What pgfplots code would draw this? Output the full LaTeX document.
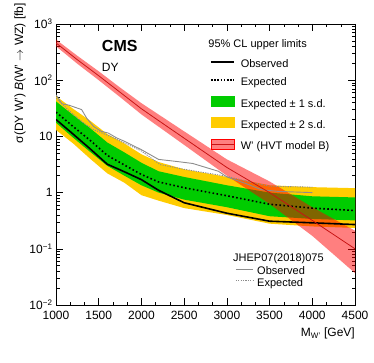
\documentclass[border=0pt]{standalone}
\usepackage{fontspec}
\setmainfont{Liberation Sans}
\usepackage{pgfplots}
\pgfplotsset{compat=1.18}
\usepackage{pgfplotstable}
\usepgfplotslibrary{fillbetween}

\definecolor{rootgreen}{RGB}{0,204,0}
\definecolor{rootyellow}{RGB}{255,204,0}
\definecolor{hvtred}{RGB}{255,0,0}
\definecolor{hvtline}{RGB}{200,20,20}
\definecolor{oldgray}{RGB}{140,140,140}

\pgfplotstableread{
m    obs   exp   g1lo  g1hi  g2lo  g2hi
1000 20    27    17.5  42    13    52
1200 11    15    9.5   24    7.5   31
1400 6.0   8.5   5.3   14    4.0   19
1600 3.2   4.6   3.0   7.8   2.2   11
1800 2.35  3.1   2.0   5.2   1.5   7.5
2000 1.7   2.1   1.35  3.4   0.9   4.8
2200 1.1   1.55  1.0   2.4   0.72  3.5
2500 0.66  1.22  0.75  1.9   0.53  2.6
3000 0.43  0.88  0.55  1.35  0.40  1.9
3500 0.31  0.62  0.38  1.0   0.28  1.35
4000 0.29  0.53  0.34  0.86  0.25  1.25
4500 0.27  0.48  0.32  0.82  0.235 1.2
}\limtab

\pgfplotstableread{
m    c     lo    hi
1000 461   402   529
1250 231   196   272
1500 120   100   144
1750 61    50    74
2000 31    24.6  39
2500 9.3   7.06  12.3
3000 2.8   2.0   3.9
3500 1.0   0.63  1.58
4000 0.32  0.17  0.55
4500 0.10  0.037 0.21
}\hvttab

\pgfplotstableread{
m    v
1000 55
1070 38
1150 36
1300 30
1360 21
1440 15
1530 12.3
1610 11.5
1710 9.4
1800 8.2
2000 5.8
2200 3.9
2400 3.6
2600 3.3
2900 2.4
3000 1.9
3250 1.4
3400 1.13
3600 1.05
4000 1.0
}\oldobs

\pgfplotstableread{
m    v
1000 48
1160 28
1320 17.4
1440 13.2
1630 10.1
2000 5.5
2220 3.15
2500 2.6
3000 1.95
3300 1.5
3500 1.3
4000 1.25
}\oldexp

\begin{document}
\begin{tikzpicture}
\begin{axis}[
  width=299pt, height=281pt, scale only axis,
  xmin=1000, xmax=4500, ymin=0.01, ymax=1000, ymode=log,
  xtick={1000,1500,...,4500}, minor x tick num=2,
  ytick={0.01,0.1,1,10,100,1000},
  minor ytick={0.02,0.03,0.04,0.05,0.06,0.07,0.08,0.09,
               0.2,0.3,0.4,0.5,0.6,0.7,0.8,0.9,
               2,3,4,5,6,7,8,9,
               20,30,40,50,60,70,80,90,
               200,300,400,500,600,700,800,900},
  yticklabels={10\textsuperscript{−2},10\textsuperscript{−1},1,10,10\textsuperscript{2},10\textsuperscript{3}},
  /pgf/number format/1000 sep={},
  /pgf/number format/assume math mode=true,
  tick align=inside, xtick pos=both, ytick pos=both,
  major tick length=7pt, minor tick length=3.5pt,
  every tick/.style={black, line width=0.5pt},
  axis line style={line width=0.6pt},
  ticklabel style={font=\fontsize{12}{14}\selectfont},
  xticklabel style={yshift=-3pt},
  xlabel={M\textsubscript{W'} [GeV]},
  xlabel style={at={(axis description cs:1,-0.08)}, anchor=north east, inner sep=0pt, font=\fontsize{12}{14}\selectfont},
  ylabel={σ(DY W') \textit{B}(W' $\rightarrow$ WZ) [fb]},
  ylabel style={at={(axis description cs:-0.12,1.075)}, anchor=east, inner sep=0pt, font=\fontsize{12}{14}\selectfont},
  legend cell align=left,
  legend style={at={(axis description cs:0.515,0.874)}, anchor=north west, draw=none, fill=none,
    inner sep=0pt, column sep=6pt, row sep=7.8pt,
    nodes={inner sep=0pt, text height=8pt, text depth=2.5pt},
    font=\fontsize{11}{13}\selectfont},
]
\coordinate (SW) at (rel axis cs:0,0);
\coordinate (NE) at (rel axis cs:1,1);

\addlegendimage{legend image code/.code={\draw[black, line width=1.6pt] (0pt,3pt) -- (23pt,3pt);}}
\addlegendentry{Observed}
\addlegendimage{legend image code/.code={\draw[black, line width=1.6pt, dash pattern=on 1.6pt off 1.6pt] (0pt,3pt) -- (23pt,3pt);}}
\addlegendentry{Expected}
\addlegendimage{legend image code/.code={\fill[rootgreen] (0pt,-2pt) rectangle (23pt,8pt);}}
\addlegendentry{Expected ± 1 s.d.}
\addlegendimage{legend image code/.code={\fill[rootyellow] (0pt,-2pt) rectangle (23pt,8pt);}}
\addlegendentry{Expected ± 2 s.d.}
\addlegendimage{legend image code/.code={\fill[hvtred, fill opacity=0.5] (0pt,-2pt) rectangle (23pt,8pt); \draw[hvtline, line width=0.8pt] (0pt,3pt) -- (23pt,3pt);}}
\addlegendentry{W' (HVT model B)}

% 2 s.d. band
\addplot[name path=y2hi, draw=none, forget plot] table[x=m,y=g2hi]{\limtab};
\addplot[name path=y2lo, draw=none, forget plot] table[x=m,y=g2lo]{\limtab};
\addplot[rootyellow, forget plot] fill between[of=y2hi and y2lo];
% 1 s.d. band
\addplot[name path=y1hi, draw=none, forget plot] table[x=m,y=g1hi]{\limtab};
\addplot[name path=y1lo, draw=none, forget plot] table[x=m,y=g1lo]{\limtab};
\addplot[rootgreen, forget plot] fill between[of=y1hi and y1lo];

% old results
\addplot[oldgray, line width=0.9pt, forget plot] table[x=m,y=v]{\oldobs};
\addplot[oldgray, line width=0.9pt, dash pattern=on 1.2pt off 1.2pt, forget plot] table[x=m,y=v]{\oldexp};

% observed / expected
\addplot[black, line width=1.6pt, forget plot] table[x=m,y=obs]{\limtab};
\addplot[black, line width=1.6pt, dash pattern=on 1.6pt off 2.4pt, forget plot] table[x=m,y=exp]{\limtab};

% HVT model B
\addplot[name path=hhi, draw=none, forget plot] table[x=m,y=hi]{\hvttab};
\addplot[name path=hlo, draw=none, forget plot] table[x=m,y=lo]{\hvttab};
\addplot[hvtred, fill opacity=0.5, forget plot] fill between[of=hhi and hlo];
\addplot[hvtline, line width=0.8pt, forget plot] table[x=m,y=c]{\hvttab};

\node[anchor=west, inner sep=0pt, font=\bfseries\fontsize{16}{18}\selectfont] at (axis description cs:0.153,0.923) {CMS};
\node[anchor=west, inner sep=0pt, font=\fontsize{12}{14}\selectfont] at (axis description cs:0.153,0.845) {DY};
\node[anchor=base east, inner sep=0pt, font=\fontsize{12}{14}\selectfont] at (axis description cs:0.99,1.0203) {137 fb\textsuperscript{−1} (13 TeV)};
\node[anchor=west, inner sep=0pt, font=\fontsize{11}{13}\selectfont] at (axis description cs:0.509,0.925) {95\% CL upper limits};
\node[anchor=west, inner sep=0pt, font=\fontsize{11}{13}\selectfont] at (axis description cs:0.592,0.164) {JHEP07(2018)075};
\end{axis}

\begin{axis}[
  width=299pt, height=281pt, scale only axis, hide axis,
  xmin=0, xmax=1, ymin=0, ymax=1,
  legend cell align=left,
  legend style={at={(axis description cs:0.599,0.135)}, anchor=north west, draw=none, fill=none,
    inner sep=0pt, column sep=4pt, row sep=2pt,
    nodes={inner sep=0pt, text height=7.5pt, text depth=2pt},
    font=\fontsize{11}{13}\selectfont},
]
\addlegendimage{legend image code/.code={\draw[oldgray, line width=0.9pt] (0pt,3pt) -- (17pt,3pt);}}
\addlegendentry{Observed}
\addlegendimage{legend image code/.code={\draw[oldgray, line width=0.9pt, dash pattern=on 1.2pt off 1.2pt] (0pt,3pt) -- (17pt,3pt);}}
\addlegendentry{Expected}
\end{axis}

\pgfresetboundingbox
\path ([xshift=-56pt,yshift=-57pt]SW) rectangle ([xshift=19pt,yshift=24pt]NE);
\end{tikzpicture}
\end{document}
